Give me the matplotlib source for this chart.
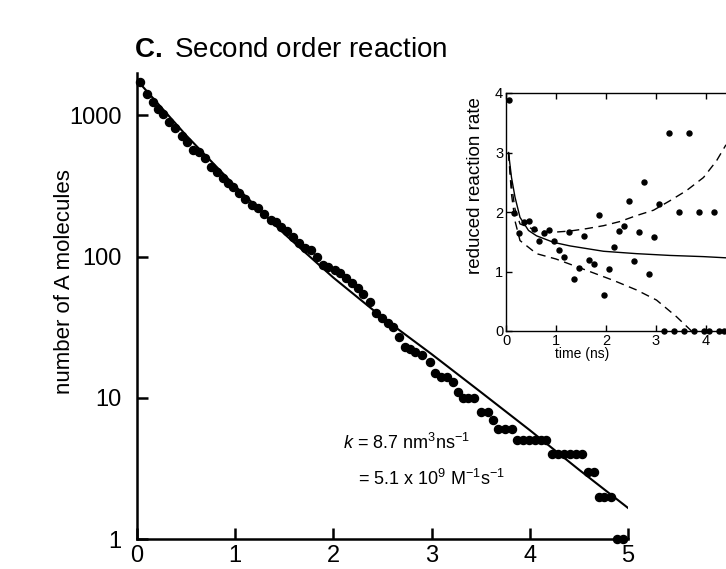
import numpy as np
import matplotlib
matplotlib.use('Agg')
import matplotlib.pyplot as plt

plt.rcParams['font.family'] = ['Liberation Sans', 'DejaVu Sans']
plt.rcParams['mathtext.fontset'] = 'custom'
plt.rcParams['mathtext.rm'] = 'Liberation Sans'
plt.rcParams['mathtext.it'] = 'Liberation Sans:italic'
plt.rcParams['mathtext.bf'] = 'Liberation Sans:bold'

# main panel: number of A molecules vs time (ns)
t_sim = [0.03, 0.10, 0.16, 0.21, 0.26, 0.33, 0.39, 0.46, 0.51, 0.57, 0.63, 0.69,
         0.75, 0.81, 0.88, 0.93, 0.98, 1.04, 1.10, 1.17, 1.23, 1.29, 1.36, 1.42,
         1.47, 1.53, 1.59, 1.65, 1.71, 1.77, 1.83, 1.89, 1.95, 2.02, 2.07, 2.13,
         2.19, 2.25, 2.30, 2.37, 2.43, 2.49, 2.56, 2.61, 2.67, 2.73, 2.78, 2.83,
         2.90, 2.98, 3.03, 3.10, 3.16, 3.22, 3.27, 3.32, 3.37, 3.43, 3.50, 3.57,
         3.63, 3.68, 3.75, 3.82, 3.87, 3.93, 3.99, 4.05, 4.11, 4.17, 4.23, 4.29,
         4.35, 4.41, 4.47, 4.53, 4.59, 4.65, 4.70, 4.76, 4.83, 4.89, 4.95]
n_sim = [1714, 1410, 1237, 1103, 1033, 906, 822, 721, 654, 574, 547, 496,
         435, 401, 363, 335, 313, 283, 257, 234, 221, 201, 183, 175,
         162, 151, 137, 125, 116, 111, 100, 88, 84, 81, 77, 71,
         65, 60, 54, 48, 40, 37, 34, 32, 27, 23, 22, 21,
         20, 18, 15, 14, 14, 13, 11, 10, 10, 10, 8, 8,
         7, 6, 6, 6, 5, 5, 5, 5, 5, 5, 4, 4,
         4, 4, 4, 4, 3, 3, 2, 2, 2, 1, 1]

t_fit = [0.0, 0.5, 1.0, 1.5, 2.0, 2.5, 3.0, 3.5, 4.0, 4.5, 5.0]
n_fit = [1780, 724, 316, 145, 71, 37, 20.4, 11, 5.9, 3.1, 1.66]

# inset: reduced reaction rate vs time (ns)
t_rate = [0.05, 0.15, 0.25, 0.35, 0.45, 0.55, 0.65, 0.75, 0.85, 0.95, 1.05,
          1.15, 1.25, 1.35, 1.45, 1.55, 1.65, 1.75, 1.85, 1.95, 2.05, 2.15,
          2.25, 2.35, 2.45, 2.55, 2.65, 2.75, 2.85, 2.95, 3.05, 3.15, 3.25,
          3.35, 3.45, 3.55, 3.65, 3.75, 3.85, 3.95, 4.05, 4.15, 4.25, 4.35, 4.45]
rate = [3.88, 1.98, 1.65, 1.84, 1.85, 1.72, 1.52, 1.64, 1.69, 1.51, 1.36,
        1.24, 1.66, 0.87, 1.06, 1.60, 1.19, 1.13, 1.95, 0.60, 1.04, 1.41,
        1.68, 1.76, 2.19, 1.18, 1.66, 2.50, 0.95, 1.58, 2.14, 0, 3.32,
        0, 2.0, 0, 3.32, 0, 2.0, 0, 0, 2.0, 0, 0, 0]

t_mean = [0.05, 0.11, 0.18, 0.28, 0.45, 0.61, 0.95, 1.28, 1.95, 2.61, 3.28, 3.95, 4.4]
r_mean = [3.0, 2.58, 2.25, 1.91, 1.69, 1.60, 1.49, 1.43, 1.34, 1.30, 1.27, 1.25, 1.23]
t_up = [0.05, 0.11, 0.18, 0.28, 0.61, 0.95, 1.28, 1.61, 1.95, 2.28, 2.61, 2.95,
        3.28, 3.61, 3.95, 4.21, 4.4]
r_up = [3.0, 2.45, 2.05, 1.80, 1.69, 1.66, 1.68, 1.72, 1.77, 1.84, 1.94, 2.03,
        2.19, 2.36, 2.58, 2.86, 3.13]
t_lo = [0.05, 0.11, 0.18, 0.28, 0.61, 1.0, 1.61, 2.15, 2.61, 3.01, 3.41, 3.71]
r_lo = [3.0, 2.3, 1.85, 1.52, 1.30, 1.21, 1.02, 0.85, 0.69, 0.52, 0.24, 0.0]

fig = plt.figure(figsize=(7.26, 5.69), dpi=100)

ax = fig.add_axes([137/726, 30/569, 491/726, 466/569])
ax.semilogy(t_sim, n_sim, 'o', color='black', markersize=5.8, clip_on=False, zorder=3)
ax.semilogy(t_fit, n_fit, '-', color='black', linewidth=1.5)
ax.set_xlim(0, 5)
ax.set_ylim(1, 2000)
ax.set_xticks([0, 1, 2, 3, 4, 5])
ax.set_yticks([1, 10, 100, 1000])
ax.set_yticklabels(['1', '10', '100', '1000'])
ax.yaxis.set_minor_locator(matplotlib.ticker.NullLocator())
ax.tick_params(direction='in', length=8, width=1.8, labelsize=17)
ax.tick_params(axis='x', pad=4)
ax.tick_params(axis='y', pad=11)
for side in ['top', 'right']:
    ax.spines[side].set_visible(False)
for side in ['left', 'bottom']:
    ax.spines[side].set_linewidth(1.8)

fig.text(75/726, 1 - 282/569, 'number of A molecules', rotation=90,
         ha='right', va='center', fontsize=16)
fig.text(134/726, 1 - 50/569, r'$\mathbf{C.}$ Second order reaction',
         ha='left', va='center', fontsize=20)

ax.text(343/726, 1 - 443/569, r'$k$ = 8.7 nm$^3$ns$^{-1}$', transform=fig.transFigure,
        ha='left', va='center', fontsize=13)
ax.text(358/726, 1 - 479/569, r'= 5.1 x 10$^9$ M$^{-1}$s$^{-1}$', transform=fig.transFigure,
        ha='left', va='center', fontsize=13)

# inset
ins = fig.add_axes([506/726, 1 - 331/569, 250/726, 238/569])
ins.plot(t_rate, rate, 'o', color='black', markersize=3.6, clip_on=False)
ins.plot(t_mean, r_mean, '-', color='black', linewidth=1.0)
ins.plot(t_up, r_up, '--', color='black', linewidth=1.0, dashes=(6, 4))
ins.plot(t_lo, r_lo, '--', color='black', linewidth=1.0, dashes=(6, 4))
ins.set_xlim(0, 5)
ins.set_ylim(0, 4)
ins.set_xticks([0, 1, 2, 3, 4])
ins.set_yticks([0, 1, 2, 3, 4])
ins.tick_params(direction='in', length=4, width=1, labelsize=10.5, pad=2,
                top=True, right=True)
for s in ins.spines.values():
    s.set_linewidth(1.0)
ins.set_xlabel('time (ns)', fontsize=10)
ins.xaxis.set_label_coords((582 - 506) / 250, (331 - 347) / 238)
ins.set_ylabel('reduced reaction rate', fontsize=13.5)
ins.yaxis.set_label_coords((484 - 506) / 250, (331 - 186) / 238)

fig.savefig('out.png', dpi=100)
